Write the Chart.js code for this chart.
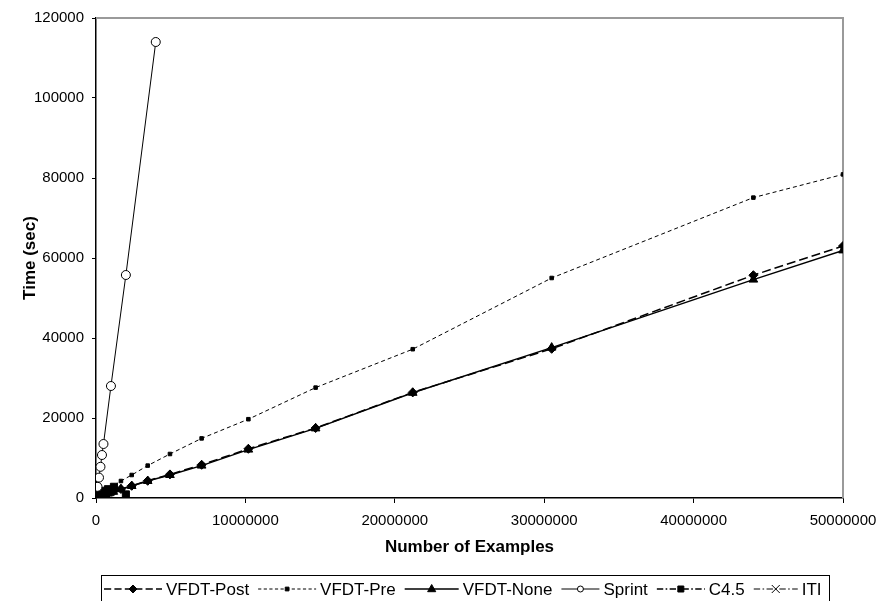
<!DOCTYPE html>
<html>
<head>
<meta charset="utf-8">
<script src="https://cdn.jsdelivr.net/npm/chart.js@4/dist/chart.umd.min.js"></script>
<style>
  body { margin: 0; background: #fff; }
  canvas { display: block; }
</style>
</head>
<body>
<canvas id="myChart" width="877" height="601"></canvas>
<script>
// values
const vfdtX = [95000, 135000, 190000, 270000, 390000, 560000, 810000, 1160000, 1670000, 2390000,
               3460000, 4950000, 7070000, 10200000, 14700000, 21200000, 30500000, 44000000, 50000000]
const postTimes = [150, 210, 290, 400, 580, 800, 1150, 1600, 2250, 3050,
                   4300, 5900, 8300, 12300, 17500, 26400, 37300, 55700, 63000]
const preTimes = [300, 400, 550, 800, 1100, 1600, 2200, 3000, 4250, 5750,
                  8100, 11000, 14900, 19700, 27600, 37200, 55000, 75100, 80900]
const noneTimes = [130, 190, 270, 380, 550, 760, 1100, 1550, 2200, 3000,
                   4250, 5750, 8100, 12100, 17400, 26300, 37600, 54600, 61900]
const sprintX = [100000, 200000, 300000, 400000, 500000, 1000000, 2000000, 4000000]
const sprintTimes = [2800, 5100, 7800, 10750, 13500, 28000, 55750, 114000]
const c45X = [50000, 100000, 200000, 400000, 600000, 800000, 1200000, 2000000]
const c45Times = [300, 600, 1000, 1400, 1800, 2200, 2800, 900]
const itiX = [10000, 25000, 50000, 75000, 100000]
const itiTimes = [250, 800, 1800, 2900, 3900]
const seriesNames = ['VFDT-Post', 'VFDT-Pre', 'VFDT-None', 'Sprint', 'C4.5', 'ITI']
const yTicks = [0, 20000, 40000, 60000, 80000, 100000, 120000]
const xTicks = [0, 10000000, 20000000, 30000000, 40000000, 50000000]

const FONT = "Arial, 'Liberation Sans', sans-serif"

function pts(xs, ys) {
    return xs.map((x, i) => ({x: x, y: ys[i]}))
}

// how each series looks (line + marker)
const looks = [
    {dash: [9, 4], width: 1.5, style: 'rectRot', r: 4.5, fill: '#000'},
    {dash: [4, 3], width: 1, style: 'rect', r: 2.5, fill: '#000'},
    {dash: [], width: 1.5, style: 'triangle', r: 5, fill: '#000'},
    {dash: [], width: 1, style: 'circle', r: 4.5, fill: '#fff'},
    {dash: [8, 3, 2, 3], width: 1.5, style: 'rect', r: 5, fill: '#000'},
    {dash: [8, 3, 2, 3], width: 1, style: 'crossRot', r: 4.5, fill: '#000'},
]
const allData = [
    pts(vfdtX, postTimes),
    pts(vfdtX, preTimes),
    pts(vfdtX, noneTimes),
    pts(sprintX, sprintTimes),
    pts(c45X, c45Times),
    pts(itiX, itiTimes),
]

const datasets = seriesNames.map((name, i) => ({
    label: name,
    data: allData[i],
    showLine: true,
    borderColor: '#000',
    borderWidth: looks[i].width,
    borderDash: looks[i].dash,
    pointStyle: looks[i].style,
    pointRadius: looks[i].r,
    pointBackgroundColor: looks[i].fill,
    pointBorderColor: '#000',
    pointBorderWidth: 1,
    tension: 0,
}))

// small marker painter for the legend
function mark(ctx, style, x, y, r, fill) {
    ctx.save()
    ctx.setLineDash([])
    ctx.fillStyle = fill
    ctx.strokeStyle = '#000'
    ctx.lineWidth = 1
    ctx.beginPath()
    if (style === 'rectRot') {
        ctx.moveTo(x, y - r); ctx.lineTo(x + r, y); ctx.lineTo(x, y + r); ctx.lineTo(x - r, y); ctx.closePath()
        ctx.fill(); ctx.stroke()
    } else if (style === 'rect') {
        ctx.rect(x - r * 0.75, y - r * 0.75, r * 1.5, r * 1.5)
        ctx.fill(); ctx.stroke()
    } else if (style === 'triangle') {
        ctx.moveTo(x, y - r); ctx.lineTo(x + r * 0.9, y + r * 0.6); ctx.lineTo(x - r * 0.9, y + r * 0.6); ctx.closePath()
        ctx.fill(); ctx.stroke()
    } else if (style === 'circle') {
        ctx.arc(x, y, r, 0, Math.PI * 2)
        ctx.fill(); ctx.stroke()
    } else if (style === 'crossRot') {
        ctx.moveTo(x - r, y - r); ctx.lineTo(x + r, y + r)
        ctx.moveTo(x + r, y - r); ctx.lineTo(x - r, y + r)
        ctx.stroke()
    }
    ctx.restore()
}

// legend: sample length per entry, marker size
const sampleLen = [58, 58, 54, 38, 48, 44]
const legendMarkR = [4, 2.5, 4.5, 3, 4, 4]

const framePlugin = {
    id: 'frame',
    beforeDatasetsDraw(chart) {
        const {ctx, chartArea: a} = chart
        ctx.save()
        ctx.strokeStyle = '#9a9a9a'
        ctx.lineWidth = 2
        ctx.beginPath()
        ctx.moveTo(a.left, a.top)
        ctx.lineTo(a.right, a.top)
        ctx.lineTo(a.right, a.bottom)
        ctx.stroke()
        ctx.restore()
    },
    afterDraw(chart) {
        const ctx = chart.ctx
        ctx.save()
        ctx.strokeStyle = '#000'
        ctx.lineWidth = 1
        ctx.strokeRect(101.5, 575.5, 728, 40)
        ctx.font = '17px ' + FONT
        ctx.fillStyle = '#000'
        ctx.textBaseline = 'middle'
        const y = 589
        let x = 104
        seriesNames.forEach((name, i) => {
            const s = x, e = x + sampleLen[i]
            ctx.save()
            ctx.lineWidth = looks[i].width
            ctx.setLineDash(looks[i].dash.length ? looks[i].dash.map(d => d * 0.8) : [])
            ctx.beginPath()
            ctx.moveTo(s, y)
            ctx.lineTo(e, y)
            ctx.stroke()
            ctx.restore()
            mark(ctx, looks[i].style, (s + e) / 2, y, legendMarkR[i], looks[i].fill)
            ctx.fillText(name, e + 4, y + 1)
            x = e + 4 + ctx.measureText(name).width + 9
        })
        ctx.restore()
    }
}

const ctx = document.getElementById('myChart')
const myChart = new Chart(ctx, {
    type: 'scatter',
    data: {datasets: datasets},
    options: {
        responsive: false,
        animation: false,
        devicePixelRatio: 1,
        layout: {padding: {left: 0, top: 18, right: 34, bottom: 43}},
        plugins: {legend: {display: false}, tooltip: {enabled: false}},
        scales: {
            x: {
                type: 'linear',
                min: 0,
                max: 50000000,
                afterBuildTicks: s => { s.ticks = xTicks.map(v => ({value: v})) },
                afterFit: s => { s.height = 60; s.paddingLeft = 0; s.paddingRight = 0 },
                ticks: {
                    callback: v => String(v),
                    color: '#000',
                    font: {family: FONT, size: 15},
                    padding: 9,
                    maxRotation: 0,
                    autoSkip: false,
                },
                grid: {drawOnChartArea: false, drawTicks: true, tickLength: 5, color: '#000', lineWidth: 1},
                border: {color: '#000', width: 1.5},
                title: {
                    display: true,
                    text: 'Number of Examples',
                    color: '#000',
                    font: {family: FONT, size: 17, weight: 'bold'},
                    padding: {top: 0, bottom: 0},
                },
            },
            y: {
                min: 0,
                max: 120000,
                afterBuildTicks: s => { s.ticks = yTicks.map(v => ({value: v})) },
                afterFit: s => { s.width = 96; s.paddingTop = 0; s.paddingBottom = 0 },
                ticks: {
                    callback: v => String(v),
                    color: '#000',
                    font: {family: FONT, size: 15},
                    padding: 8,
                    autoSkip: false,
                },
                grid: {drawOnChartArea: false, drawTicks: true, tickLength: 4, color: '#000', lineWidth: 1},
                border: {color: '#000', width: 1.5},
                title: {
                    display: true,
                    text: 'Time (sec)',
                    color: '#000',
                    font: {family: FONT, size: 17, weight: 'bold'},
                    padding: {top: 20, bottom: 0},
                },
            },
        },
    },
    plugins: [framePlugin],
})
</script>
</body>
</html>
